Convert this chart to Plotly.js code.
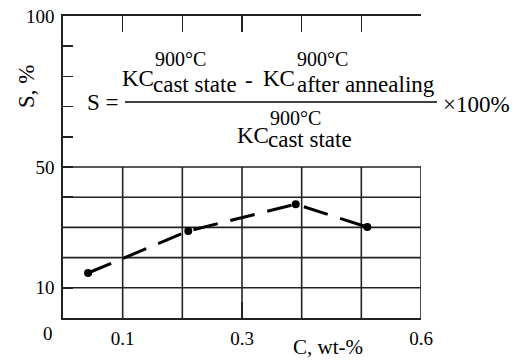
<!DOCTYPE html>
<html>
<head>
<meta charset="utf-8">
<script src="https://cdn.plot.ly/plotly-3.0.1.min.js"></script>
<style>html,body{margin:0;padding:0;background:#fff;}#chart{width:523px;height:361px;}</style>
</head>
<body>
<div id="chart"></div>
<script>
// ---- data ----
const carbonWt = [0.042, 0.21, 0.39, 0.51];
const sPercent = [14.9, 28.8, 37.7, 30.1];
const xTickVals = [0, 0.1, 0.2, 0.3, 0.4, 0.5, 0.6];
const xTickText = ['', '0.1', '', '0.3', '', '', '0.6'];
const yTickVals = [0, 10, 20, 30, 40, 50, 60, 70, 80, 90, 100];
const yTickText = ['', '10', '', '', '', '50', '', '', '', '', '100'];
const gridY = [10, 20, 30, 40, 50];
const gridX = [0.1, 0.2, 0.3, 0.4, 0.5, 0.6];

// ---- layout helpers (pixel -> paper) ----
const L = 63, R = 421, T = 16, B = 318;
const px = x => (x - L) / (R - L);
const py = y => (B - y) / (B - T);
const FAM = 'Liberation Serif';
const ink = '#222';

function draw() {
  const shapes = [];
  gridY.forEach(v => shapes.push({type:'line', xref:'x', yref:'y', x0:0, x1:0.6, y0:v, y1:v, layer:'below', line:{color:ink, width:1.6}}));
  gridX.forEach(v => shapes.push({type:'line', xref:'x', yref:'y', x0:v, x1:v, y0:0, y1:50, layer:'below', line:{color:ink, width:1.6}}));
  // fraction bar
  shapes.push({type:'line', xref:'paper', yref:'paper', x0:px(125), x1:px(437), y0:py(102), y1:py(102), line:{color:'#000', width:1.3}});

  const pieces = [
    ['S =', 86, 102, 23],
    ['KC', 121, 79, 23],
    ['900\u00B0C', 154, 59, 20],
    ['cast state', 152, 84, 23],
    ['-', 244, 80, 23],
    ['KC', 262, 79, 23],
    ['900\u00B0C', 296, 59, 20],
    ['after annealing', 296, 84, 23],
    ['\u00D7100%', 442, 104, 23],
    ['KC', 236, 135, 23],
    ['900\u00B0C', 269, 118, 20],
    ['cast state', 267, 139, 23]
  ];
  const annotations = pieces.map(p => ({
    text: p[0], xref:'paper', yref:'paper', x: px(p[1]), y: py(p[2]),
    xanchor:'left', yanchor:'middle', showarrow:false, borderpad:0,
    font:{family:FAM, size:p[3], color:'#000'}
  }));
  annotations.push({text:'0', xref:'paper', yref:'paper', x:px(48), y:py(333), xanchor:'center', yanchor:'middle', showarrow:false, font:{family:FAM, size:19, color:'#000'}});
  annotations.push({text:'S, %', xref:'paper', yref:'paper', x:px(26), y:py(87), xanchor:'center', yanchor:'middle', textangle:-90, showarrow:false, font:{family:FAM, size:23, color:'#000'}});
  annotations.push({text:'C, wt-%', xref:'paper', yref:'paper', x:px(328), y:py(347), xanchor:'center', yanchor:'middle', showarrow:false, font:{family:FAM, size:21, color:'#000'}});

  const trace = {
    x: carbonWt, y: sPercent, type:'scatter', mode:'lines+markers',
    line:{color:'#000', width:3, dash:'25px,13px'},
    marker:{color:'#000', size:8},
    hoverinfo:'skip', cliponaxis:false
  };

  const layout = {
    width:523, height:361,
    margin:{l:L, r:523-R, t:T, b:361-B, pad:0},
    paper_bgcolor:'#fff', plot_bgcolor:'#fff',
    showlegend:false,
    xaxis:{range:[0,0.6], tickmode:'array', tickvals:xTickVals, ticktext:xTickText,
      ticks:'inside', ticklen:16, tickwidth:1.6, tickcolor:ink,
      showline:true, linecolor:ink, linewidth:1.6, mirror:'ticks',
      showgrid:false, zeroline:false, ticklabelstandoff:3,
      tickfont:{family:FAM, size:19, color:'#000'}, fixedrange:true},
    yaxis:{range:[0,100], tickmode:'array', tickvals:yTickVals, ticktext:yTickText,
      ticks:'inside', ticklen:10, tickwidth:1.6, tickcolor:ink,
      showline:true, linecolor:ink, linewidth:1.6,
      showgrid:false, zeroline:false, ticklabelstandoff:3,
      tickfont:{family:FAM, size:19, color:'#000'}, fixedrange:true},
    shapes: shapes,
    annotations: annotations
  };

  Plotly.newPlot('chart', [trace], layout, {displayModeBar:false, staticPlot:true});
}

if (document.fonts && document.fonts.load) {
  document.fonts.load('20px "Liberation Serif"').then(draw, draw);
} else {
  draw();
}
</script>
</body>
</html>
